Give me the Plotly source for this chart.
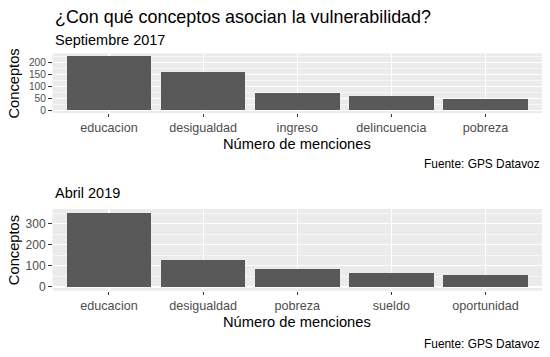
import plotly.graph_objects as go

# Data
cats_2017 = ["educacion", "desigualdad", "ingreso", "delincuencia", "pobreza"]
vals_2017 = [226, 159, 74, 60, 47]
cats_2019 = ["educacion", "desigualdad", "pobreza", "sueldo", "oportunidad"]
vals_2019 = [352, 129, 87, 64, 58]

title_text = "¿Con qué conceptos asocian la vulnerabilidad?"
subtitle_2017 = "Septiembre 2017"
subtitle_2019 = "Abril 2019"
xlab = "Número de menciones"
ylab = "Conceptos"
caption = "Fuente: GPS Datavoz"

W, H = 550, 357
FONT = "Liberation Sans, Arial, sans-serif"
BAR = "#595959"
PANEL = "#EBEBEB"

def px(x):
    return x / W

def py(y):
    return 1 - y / H

fig = go.Figure()
fig.add_trace(go.Bar(x=cats_2017, y=vals_2017, marker=dict(color=BAR, line=dict(width=0)),
                     width=0.9, xaxis="x", yaxis="y", showlegend=False, hoverinfo="skip"))
fig.add_trace(go.Bar(x=cats_2019, y=vals_2019, marker=dict(color=BAR, line=dict(width=0)),
                     width=0.9, xaxis="x2", yaxis="y2", showlegend=False, hoverinfo="skip"))

xl, xr = 52.5, 542
top1, bot1 = 53.5, 113
top2, bot2 = 209, 290.7

def xaxis_cfg(anchor):
    return dict(domain=[px(xl), px(xr)], anchor=anchor, range=[-0.6, 4.6],
                automargin=False,
                showgrid=True, gridcolor="white", gridwidth=1.1,
                ticks="outside", ticklen=3, tickcolor="#333333", tickwidth=1,
                tickfont=dict(family=FONT, size=12.6, color="#4D4D4D"),
                showline=False, zeroline=False, fixedrange=True)

def yaxis_cfg(anchor, dom, maxv, dtick, fsize):
    return dict(domain=dom, anchor=anchor, range=[-0.05 * maxv, 1.05 * maxv],
                automargin=False,
                dtick=dtick, tick0=0,
                showgrid=True, gridcolor="white", gridwidth=1.1,
                minor=dict(dtick=dtick / 2, tick0=dtick / 2, showgrid=True,
                           gridcolor="white", gridwidth=0.55, ticklen=0),
                ticks="outside", ticklen=3.5, tickcolor="#333333", tickwidth=1,
                tickfont=dict(family=FONT, size=fsize, color="#4D4D4D"),
                showline=False, zeroline=False, fixedrange=True)

fig.update_layout(
    width=W, height=H,
    margin=dict(l=0, r=0, t=0, b=0, autoexpand=False),
    paper_bgcolor="white",
    plot_bgcolor=PANEL,
    bargap=0,
    hovermode=False,
    xaxis=xaxis_cfg("y"),
    yaxis=yaxis_cfg("x", [py(bot1), py(top1)], max(vals_2017), 50, 10.2),
    xaxis2=xaxis_cfg("y2"),
    yaxis2=yaxis_cfg("x2", [py(bot2), py(top2)], max(vals_2019), 100, 12),
    font=dict(family=FONT, color="black"),
)

ann = []
def add(text, x, y, size, xanchor="left", color="black", angle=0):
    ann.append(dict(text=text, x=px(x), y=py(y), xref="paper", yref="paper",
                    xanchor=xanchor, yanchor="middle", showarrow=False,
                    textangle=angle, font=dict(family=FONT, size=size, color=color)))

add(title_text, 53, 16.5, 17.9)
add(subtitle_2017, 53, 40, 14.5)
add(xlab, (xl + xr) / 2, 143.5, 14.7, xanchor="center")
add(caption, 542, 164, 11.9, xanchor="right")
add(ylab, 14.3, (top1 + bot1) / 2, 14.7, xanchor="center", angle=-90)

add(subtitle_2019, 53, 192.5, 14.5)
add(xlab, (xl + xr) / 2, 322, 14.7, xanchor="center")
add(caption, 542, 343.5, 11.9, xanchor="right")
add(ylab, 14.3, (top2 + bot2) / 2, 14.7, xanchor="center", angle=-90)

fig.update_layout(annotations=ann)

fig.write_html("out.html", config={"displayModeBar": False, "staticPlot": True},
               post_script="document.body.style.margin='0';document.body.style.overflow='hidden';")
